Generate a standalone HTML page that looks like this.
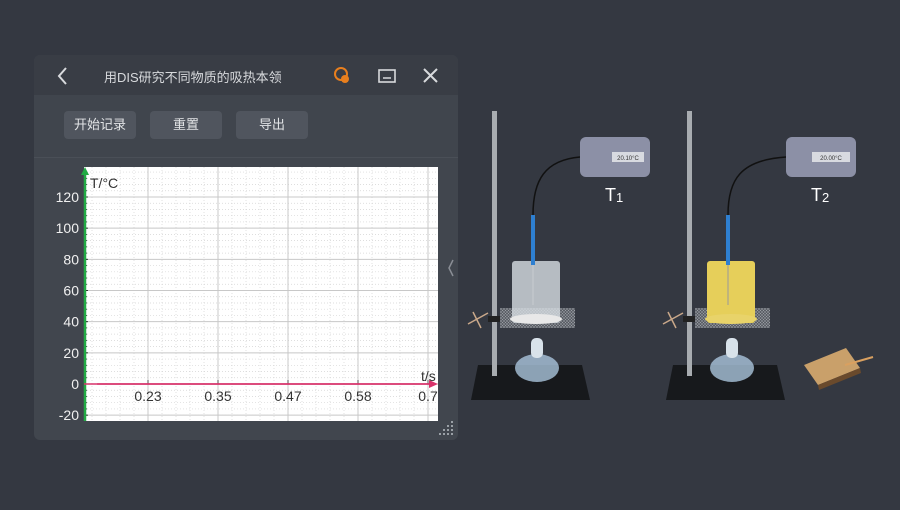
<!DOCTYPE html>
<html><head><meta charset="utf-8">
<style>
html,body{margin:0;padding:0;}
body{width:900px;height:510px;background:#343841;position:relative;overflow:hidden;font-family:"Liberation Sans","Noto Sans CJK SC",sans-serif;}
#panel{position:absolute;left:34px;top:55px;width:424px;height:385px;background:#41464e;border-radius:6px;overflow:hidden;}
#hdr{position:absolute;left:0;top:0;width:424px;height:40px;background:#393d45;}
#title{position:absolute;left:70px;top:12px;color:#d8dadd;font-size:13px;}
#tb{position:absolute;left:0;top:40px;width:424px;height:62px;background:#40454d;border-bottom:1px solid #4a4f57;}
.btn{position:absolute;top:16px;width:72px;height:28px;background:#50555e;border-radius:4px;color:#e2e4e6;font-size:13px;text-align:center;line-height:28px;}
#plot{position:absolute;left:0;top:0;}
</style></head><body>
<div id="panel">
 <div id="hdr">
  <svg width="424" height="40" style="position:absolute;left:0;top:0">
   <g><path d="M32 13 L25 21 L32 29" stroke="#d8dadd" stroke-width="2" fill="none"/></g>
   <g><circle cx="307" cy="19" r="6" fill="none" stroke="#e87f1e" stroke-width="2"/><circle cx="311" cy="24" r="4" fill="#e87f1e"/></g>
   <g><rect x="345" y="15" width="16" height="12" fill="none" stroke="#d8dadd" stroke-width="1.6"/><line x1="349" y1="23" x2="357" y2="23" stroke="#d8dadd" stroke-width="1.6"/></g>
   <g><path d="M390 14 L403 27 M403 14 L390 27" stroke="#d8dadd" stroke-width="2"/></g>
  </svg>
  <div id="title">用DIS研究不同物质的吸热本领</div>
 </div>
 <div id="tb">
  <div class="btn" style="left:30px">开始记录</div>
  <div class="btn" style="left:116px">重置</div>
  <div class="btn" style="left:202px">导出</div>
 </div>
 <svg width="424" height="385" style="position:absolute;left:0;top:0"><path d="M419 205 L415 213 L419 221" stroke="#8a8e95" stroke-width="1.5" fill="none"/>
 <g fill="#9aa0a6"><rect x="417" y="366" width="2" height="2"/><rect x="413" y="370" width="2" height="2"/><rect x="417" y="370" width="2" height="2"/><rect x="409" y="374" width="2" height="2"/><rect x="413" y="374" width="2" height="2"/><rect x="417" y="374" width="2" height="2"/><rect x="405" y="378" width="2" height="2"/><rect x="409" y="378" width="2" height="2"/><rect x="413" y="378" width="2" height="2"/><rect x="417" y="378" width="2" height="2"/></g></svg>
</div>
<svg id="plot" width="900" height="510"></svg>

<script>
const yTicks=[-20,0,20,40,60,80,100,120];
const xTickLabels=["0.23","0.35","0.47","0.58","0.7"];
const xTickValues=[0.23,0.34,0.45,0.56,0.67];
const seriesT=[0,0,0];
const seriesTime=[0.15,0.4,0.7];

const L=84,R=438,T=167,B=421;
const xMin=0.11,xMax=0.693;
function xs(v){return 148+(v-0.23)*(70/0.11);}
function ys(v){return 384-v*(187/120);}
const svg=document.getElementById('plot');
const NS='http://www.w3.org/2000/svg';
function mk(tag,attrs,parent){const e=document.createElementNS(NS,tag);for(const k in attrs)e.setAttribute(k,attrs[k]);(parent||svg).appendChild(e);return e;}

const bg=mk('rect',{x:L,y:T,width:R-L,height:B-T,fill:'#ffffff'});


// minor dotted grid
for(let v=-20;v<=140;v+=4){const y=ys(v);if(y<T||y>B)continue;mk('line',{x1:L,x2:R,y1:y,y2:y,stroke:'#d4d4d4','stroke-width':0.7,'stroke-dasharray':'1,2'});}
for(let v=0.23-0.11;v<=0.8;v+=0.11/5){const x=xs(v);if(x<L||x>R)continue;mk('line',{x1:x,x2:x,y1:T,y2:B,stroke:'#d4d4d4','stroke-width':0.7,'stroke-dasharray':'1,2'});}
// major grid
yTicks.forEach(v=>{const y=ys(v);const g=mk('line',{x1:L,x2:R,y1:y,y2:y,stroke:'#c8c8c8','stroke-width':1});


const t=mk('text',{x:79,y:y+5,'text-anchor':'end','font-size':14,fill:'#f0f0f0','font-family':'Liberation Sans, sans-serif'});t.textContent=String(v);


mk('line',{x1:L,x2:L+4,y1:y,y2:y,stroke:'#333','stroke-width':1});});
xTickValues.forEach((v,i)=>{const x=xs(v);const g=mk('line',{x1:x,x2:x,y1:T,y2:B,stroke:'#c8c8c8','stroke-width':1});


mk('line',{x1:x,x2:x,y1:ys(0)-4,y2:ys(0),stroke:'#555','stroke-width':1});
const t=mk('text',{x:x,y:ys(0)+17,'text-anchor':'middle','font-size':14,fill:'#333','font-family':'Liberation Sans, sans-serif'});t.textContent=xTickLabels[i];

});
// minor ticks on y axis
for(let v=-20;v<=136;v+=4){mk('line',{x1:L,x2:L+3,y1:ys(v),y2:ys(v),stroke:'#222','stroke-width':0.8});}
// y axis green
const ya=mk('line',{x1:L+1,x2:L+1,y1:T+6,y2:B,stroke:'#22aa44','stroke-width':2.5});


mk('path',{d:`M${L+1} ${T} L${L-3} ${T+8} L${L+5} ${T+8} Z`,fill:'#22aa44'});
const yt=mk('text',{x:90,y:188,'font-size':14,fill:'#333','font-family':'Liberation Sans, sans-serif'});yt.textContent='T/°C';


// x axis / series
const pts=seriesTime.map((t,i)=>[Math.max(L,Math.min(R-6,xs(t))),ys(seriesT[i])]);
const ln=mk('polyline',{points:pts.map(p=>p.join(',')).join(' '),fill:'none',stroke:'#d8336b','stroke-width':1.5});


mk('line',{x1:L,x2:R-6,y1:ys(0),y2:ys(0),stroke:'#d8336b','stroke-width':1.5});
mk('path',{d:`M${R} ${ys(0)} L${R-9} ${ys(0)-4} L${R-9} ${ys(0)+4} Z`,fill:'#d8336b'});
const xt=mk('text',{x:421,y:381,'font-size':14,fill:'#333','font-family':'Liberation Sans, sans-serif'});xt.textContent='t/s';


</script>

<svg width="900" height="510" style="position:absolute;left:0;top:0">
 <defs>
  <pattern id="mesh" width="3" height="3" patternUnits="userSpaceOnUse"><rect width="3" height="3" fill="#5b5f66"/><path d="M0 0L3 3M3 0L0 3" stroke="#9a9ea4" stroke-width="0.5"/></pattern>
 </defs>
 <g>
  <path d="M478 365 L582 365 L590 400 L471 400 Z" fill="#17191c"/>
  <rect x="492" y="111" width="5" height="265" fill="#a8acb0"/>
  <path d="M468 324 L488 313 M473 312 L481 328" stroke="#c9a88a" stroke-width="1.5"/>
  <rect x="488" y="316" width="14" height="6" fill="#222"/>
  <rect x="500" y="308" width="75" height="20" fill="url(#mesh)"/>
  <rect x="512" y="261" width="48" height="62" fill="#d7dde2" opacity="0.8" rx="3"/>
  <ellipse cx="536" cy="319" rx="26" ry="5" fill="#e8e8e8"/>
  <line x1="533" y1="215" x2="533" y2="265" stroke="#2e7fd0" stroke-width="4"/>
  <line x1="533" y1="265" x2="533" y2="305" stroke="#c8ccd0" stroke-width="1"/>
  <path d="M533 215 C533 180 545 160 580 157" stroke="#111" stroke-width="1.5" fill="none"/>
  <rect x="580" y="137" width="70" height="40" rx="6" fill="#8c90a6"/>
  <rect x="612" y="152" width="32" height="10" fill="#d8dae0"/>
  <text x="628" y="160" font-size="6" text-anchor="middle" fill="#333">20.10°C</text>
  <text x="605" y="201" font-size="18" fill="#fff">T<tspan font-size="13" dy="1">1</tspan></text>
  <ellipse cx="537" cy="368" rx="22" ry="14" fill="#aac4dc" opacity="0.8"/>
  <rect x="531" y="338" width="12" height="20" rx="5" fill="#d8e2ea"/>
 </g>
 <g>
  <path d="M673 365 L777 365 L785 400 L666 400 Z" fill="#17191c"/>
  <rect x="687" y="111" width="5" height="265" fill="#a8acb0"/>
  <path d="M663 324 L683 313 M668 312 L676 328" stroke="#c9a88a" stroke-width="1.5"/>
  <rect x="683" y="316" width="14" height="6" fill="#222"/>
  <rect x="695" y="308" width="75" height="20" fill="url(#mesh)"/>
  <rect x="707" y="261" width="48" height="62" fill="#e6cf5a" rx="3"/>
  <ellipse cx="731" cy="319" rx="26" ry="5" fill="#e8d36a"/>
  <line x1="728" y1="215" x2="728" y2="265" stroke="#2e7fd0" stroke-width="4"/>
  <line x1="728" y1="265" x2="728" y2="305" stroke="#999" stroke-width="1"/>
  <path d="M728 215 C728 180 740 160 786 157" stroke="#111" stroke-width="1.5" fill="none"/>
  <rect x="786" y="137" width="70" height="40" rx="6" fill="#8c90a6"/>
  <rect x="812" y="152" width="38" height="10" fill="#d8dae0"/>
  <text x="831" y="160" font-size="6" text-anchor="middle" fill="#333">20.00°C</text>
  <text x="811" y="201" font-size="18" fill="#fff">T<tspan font-size="13" dy="1">2</tspan></text>
  <ellipse cx="732" cy="368" rx="22" ry="14" fill="#aac4dc" opacity="0.8"/>
  <rect x="726" y="338" width="12" height="20" rx="5" fill="#d8e2ea"/>
 </g>
 <g>
  <path d="M804 365 L846 348 L860 368 L818 385 Z" fill="#c9a06a"/>
  <path d="M818 385 L860 368 L861 373 L819 390 Z" fill="#6a4a2c"/>
  <line x1="845" y1="365" x2="873" y2="357" stroke="#d9a060" stroke-width="2"/>
 </g>
</svg>
</body></html>
